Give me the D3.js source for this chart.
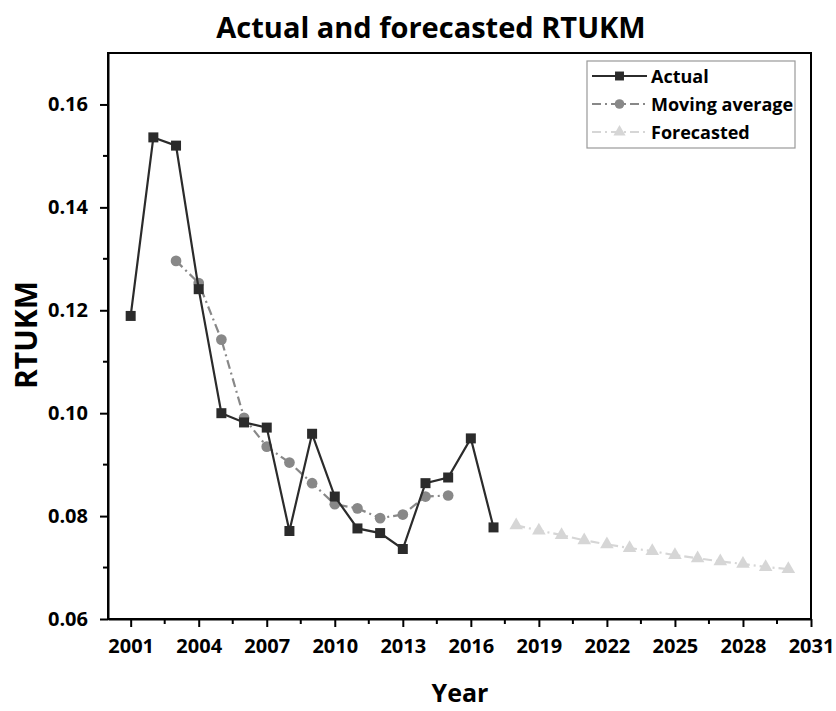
<!DOCTYPE html>
<html>
<head>
<meta charset="utf-8">
<script src="https://cdn.jsdelivr.net/npm/d3@7"></script>
<style>
  body { margin: 0; background: #fff; }
  svg { display: block; font-family: "Open Sans", "DejaVu Sans", sans-serif; }
</style>
</head>
<body>
<svg id="chart" width="836" height="711"></svg>
<script>
// RTUKM series
const actualYears = [2001,2002,2003,2004,2005,2006,2007,2008,2009,2010,2011,2012,2013,2014,2015,2016,2017];
const actualValues = [0.1189,0.1536,0.1520,0.1241,0.1000,0.0982,0.0972,0.0771,0.0960,0.0838,0.0776,0.0767,0.0736,0.0864,0.0875,0.0951,0.0778];

const maYears = [2003,2004,2005,2006,2007,2008,2009,2010,2011,2012,2013,2014,2015];
const maValues = [0.1296,0.1253,0.1143,0.0991,0.0935,0.0904,0.0864,0.0823,0.0815,0.0796,0.0803,0.0838,0.0840];

const fcYears = [2018,2019,2020,2021,2022,2023,2024,2025,2026,2027,2028,2029,2030];
const fcValues = [0.0782,0.0772,0.0763,0.0753,0.0745,0.0738,0.0732,0.0724,0.0718,0.0712,0.0707,0.0701,0.0697];

const xTickYears = [2001,2004,2007,2010,2013,2016,2019,2022,2025,2028,2031];
const yTickValues = [0.06,0.08,0.10,0.12,0.14,0.16];
const legendLabels = ["Actual","Moving average","Forecasted"];

const svg = d3.select("#chart");
const plotL = 108, plotR = 811, plotT = 53, plotB = 619;

const x = d3.scaleLinear().domain([2000, 2031]).range([plotL, plotR]);
const y = d3.scaleLinear().domain([0.06, 0.17]).range([plotB, plotT]);

// frame
svg.append("rect").attr("x", plotL).attr("y", plotT)
  .attr("width", plotR - plotL).attr("height", plotB - plotT)
  .attr("fill", "none").attr("stroke", "#000").attr("stroke-width", 2);

// x axis: major + minor ticks
const xAxis = d3.axisBottom(x).tickValues(xTickYears).tickFormat(d3.format("d"))
  .tickSize(8).tickSizeOuter(0).tickPadding(12);
const gx = svg.append("g").attr("transform", `translate(0,${plotB})`).call(xAxis);
const xMinor = d3.range(2002.5, 2031, 3);
gx.selectAll(".minor").data(xMinor).enter().append("line")
  .attr("x1", d => x(d)).attr("x2", d => x(d)).attr("y1", 0).attr("y2", 5)
  .attr("stroke", "#000").attr("stroke-width", 2);

// y axis
const yAxis = d3.axisLeft(y).tickValues(yTickValues).tickFormat(d3.format(".2f"))
  .tickSize(8).tickSizeOuter(0).tickPadding(12);
const gy = svg.append("g").attr("transform", `translate(${plotL},0)`).call(yAxis);
const yMinor = [0.07,0.09,0.11,0.13,0.15];
gy.selectAll(".minor").data(yMinor).enter().append("line")
  .attr("x1", 0).attr("x2", -5).attr("y1", d => y(d)).attr("y2", d => y(d))
  .attr("stroke", "#000").attr("stroke-width", 2);

[gx, gy].forEach(g => {
  g.select(".domain").attr("stroke", "#000").attr("stroke-width", 2);
  g.selectAll(".tick line").attr("stroke", "#000").attr("stroke-width", 2);
  g.selectAll(".tick text").attr("font-size", 20).attr("font-weight", "bold")
    .attr("fill", "#000").attr("font-family", "'Open Sans', sans-serif");
});

// titles
svg.append("text").attr("x", 431).attr("y", 38).attr("text-anchor", "middle")
  .attr("font-size", 29).attr("font-weight", "bold").text("Actual and forecasted RTUKM");
svg.append("text").attr("x", 460).attr("y", 702).attr("text-anchor", "middle")
  .attr("font-size", 25).attr("font-weight", "bold").text("Year");
svg.append("text").attr("transform", `translate(37,335) rotate(-90)`)
  .attr("text-anchor", "middle").attr("font-size", 30).attr("font-weight", "bold").text("RTUKM");

const line = d3.line().x(d => x(d[0])).y(d => y(d[1]));

const series = [
  { data: d3.zip(actualYears, actualValues), color: "#2b2b2b", dash: null, sym: d3.symbolSquare, size: 100, width: 2.2 },
  { data: d3.zip(maYears, maValues), color: "#888888", dash: "9,4,2,4", sym: d3.symbolCircle, size: 90, width: 2.2 },
  { data: d3.zip(fcYears, fcValues), color: "#d6d6d6", dash: "9,4,2,4", sym: d3.symbolTriangle, size: 80, width: 2.2 }
];

// draw forecast first so actual sits on top
series.slice().reverse().forEach(s => {
  svg.append("path").datum(s.data).attr("d", line).attr("fill", "none")
    .attr("stroke", s.color).attr("stroke-width", s.width)
    .attr("stroke-dasharray", s.dash);
  svg.append("g").selectAll("path").data(s.data).enter().append("path")
    .attr("d", d3.symbol().type(s.sym).size(s.size))
    .attr("transform", d => `translate(${x(d[0])},${y(d[1])})`)
    .attr("fill", s.color);
});

// legend
const lg = svg.append("g");
lg.append("rect").attr("x", 587).attr("y", 61).attr("width", 208).attr("height", 87)
  .attr("fill", "#fff").attr("stroke", "#999").attr("stroke-width", 1.2);
series.forEach((s, i) => {
  const ly = 76 + i * 28;
  lg.append("line").attr("x1", 592).attr("x2", 647).attr("y1", ly).attr("y2", ly)
    .attr("stroke", s.color).attr("stroke-width", s.width).attr("stroke-dasharray", s.dash);
  lg.append("path").attr("d", d3.symbol().type(s.sym).size(s.size * 0.8)())
    .attr("transform", `translate(619.5,${ly})`).attr("fill", s.color);
  lg.append("text").attr("x", 651).attr("y", ly + 6.5).attr("font-size", 18)
    .attr("font-weight", "bold").text(legendLabels[i]);
});
</script>
</body>
</html>
